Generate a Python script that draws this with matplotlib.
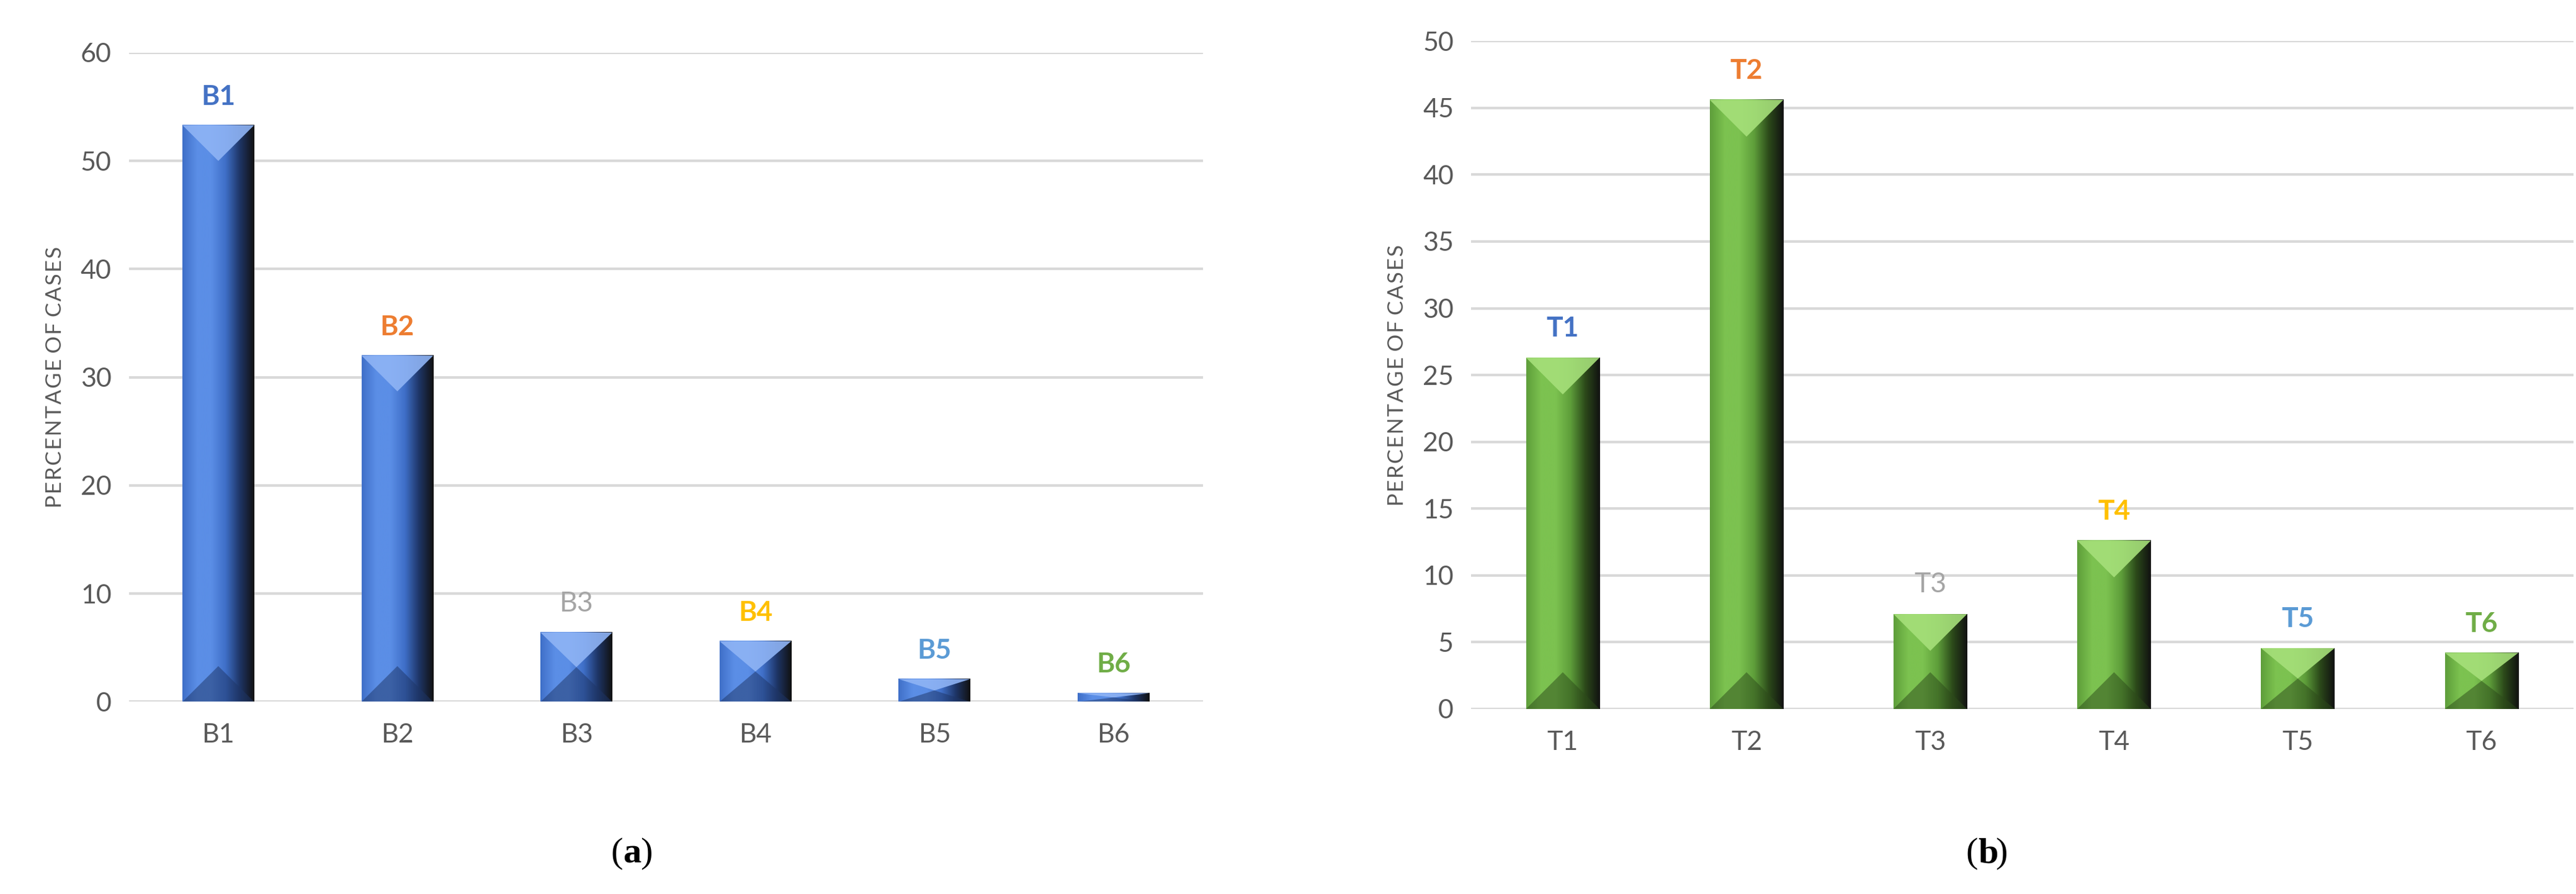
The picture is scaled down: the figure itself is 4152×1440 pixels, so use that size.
import matplotlib
matplotlib.use("Agg")
import matplotlib.pyplot as plt
import numpy as np
from matplotlib.patches import Polygon
from matplotlib.colors import LinearSegmentedColormap

b_cats = ["B1", "B2", "B3", "B4", "B5", "B6"]
b_vals = [53.3, 32.0, 6.4, 5.6, 2.1, 0.8]
t_cats = ["T1", "T2", "T3", "T4", "T5", "T6"]
t_vals = [26.3, 45.6, 7.1, 12.6, 4.55, 4.2]
label_colors = ["#4472C4", "#ED7D31", "#A5A5A5", "#FFC000", "#5B9BD5", "#70AD47"]

plt.rcParams['font.family'] = ['Lato', 'DejaVu Sans']
fig = plt.figure(figsize=(41.52, 14.4), dpi=100)

def panel(rect, cats, vals, ymax, step, light, mid, dark, top, letter):
    ax = fig.add_axes(rect)
    x = np.arange(len(cats))
    w = 0.4
    cmap = LinearSegmentedColormap.from_list("g", [mid, light, light, mid, dark, "#111111"])
    grad = np.linspace(0, 1, 256).reshape(1, -1)
    for xi, v in zip(x, vals):
        ax.imshow(grad, extent=(xi - w/2, xi + w/2, 0, v), aspect='auto', cmap=cmap, zorder=3)
        tri = min(v * 0.5, ymax * 0.055)
        ax.add_patch(Polygon([(xi - w/2, v), (xi + w/2, v), (xi, v - tri)], closed=True,
                             facecolor=top, edgecolor='none', zorder=4, alpha=0.9))
        ax.add_patch(Polygon([(xi - w/2, 0), (xi + w/2, 0), (xi, min(tri, v*0.5))], closed=True,
                             facecolor=dark, edgecolor='none', zorder=4, alpha=0.5))
    for i, (xi, v) in enumerate(zip(x, vals)):
        ax.text(xi, v + ymax * 0.025, cats[i], ha='center', va='bottom', fontsize=32,
                fontweight='bold' if i != 2 else 'normal', color=label_colors[i], zorder=5)
    ax.set_xlim(-0.5, len(cats) - 0.5)
    ax.set_ylim(0, ymax)
    ax.set_yticks(np.arange(0, ymax + 0.1, step))
    ax.set_xticks(x)
    ax.set_xticklabels(cats)
    ax.tick_params(length=0, labelsize=31, labelcolor='#595959', pad=25)
    ax.tick_params(axis='y', pad=20)
    ax.yaxis.grid(True, color='#D9D9D9', linewidth=3, zorder=0)
    ax.set_axisbelow(True)
    for s in ax.spines.values():
        s.set_visible(False)
    ax.set_ylabel("P E R C E N T A G E   O F   C A S E S".replace(" ", "\u200a").replace("\u200a\u200a\u200a", " "),
                  fontsize=25, color='#595959', labelpad=18)
    cx = rect[0] + rect[2] * 0.46
    fig.text(cx, 0.045, "(", fontsize=42, family='Liberation Serif', ha='right', va='center')
    fig.text(cx, 0.045, letter, fontsize=42, family='Liberation Serif',
             fontweight='bold', ha='left', va='center')
    fig.text(cx + 0.0068, 0.045, ")", fontsize=42, family='Liberation Serif', ha='left', va='center')
    return ax

panel([0.050, 0.215, 0.417, 0.726], b_cats, b_vals, 60, 10,
      "#5B8EE6", "#3F6FC8", "#1E3566", "#8FB4F5", "a")
panel([0.571, 0.207, 0.428, 0.747], t_cats, t_vals, 50, 5,
      "#7CC250", "#5E9E3A", "#2C4A1A", "#A6E07A", "b")

fig.savefig("out.png", dpi=100, facecolor='white')
